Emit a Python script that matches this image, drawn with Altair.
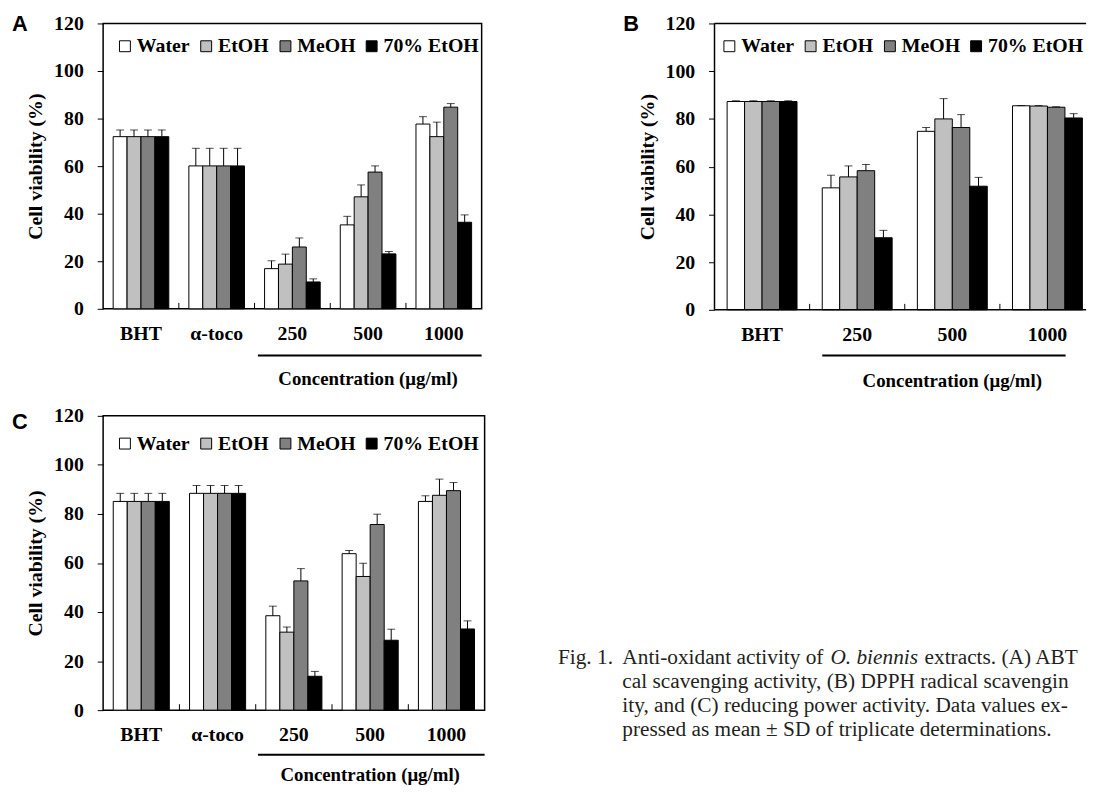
import altair as alt
import pandas as pd

SERIES = ["Water", "EtOH", "MeOH", "70% EtOH"]
FILLS = ["#ffffff", "#c0c0c0", "#808080", "#000000"]

GROUPS_AC = ["BHT", "α-toco", "250", "500", "1000"]
GROUPS_B = ["BHT", "250", "500", "1000"]

# Panel A (means and SD)
a_water = [72.4, 60.1, 16.9, 35.3, 77.7]
a_etoh = [72.4, 60.1, 18.8, 47.1, 72.4]
a_meoh = [72.4, 60.1, 26.0, 57.5, 84.8]
a_e70 = [72.4, 60.1, 11.3, 23.1, 36.4]
a_water_sd = [2.8, 7.4, 3.3, 3.6, 3.1]
a_etoh_sd = [2.8, 7.4, 4.2, 5.0, 6.1]
a_meoh_sd = [2.8, 7.4, 3.8, 2.6, 1.5]
a_e70_sd = [2.8, 7.4, 1.3, 1.0, 3.1]

# Panel B
b_water = [87.3, 51.1, 74.8, 85.5]
b_etoh = [87.3, 55.7, 80.0, 85.4]
b_meoh = [87.3, 58.3, 76.4, 84.9]
b_e70 = [87.3, 30.2, 51.8, 80.4]
b_water_sd = [0.3, 5.3, 1.6, 0.1]
b_etoh_sd = [0.3, 4.6, 8.5, 0.2]
b_meoh_sd = [0.3, 2.6, 5.4, 0.2]
b_e70_sd = [0.3, 3.1, 3.7, 1.8]

# Panel C
c_water = [85.1, 88.4, 38.5, 63.8, 85.1]
c_etoh = [85.1, 88.4, 31.8, 54.5, 87.6]
c_meoh = [85.1, 88.4, 52.7, 75.7, 89.5]
c_e70 = [85.1, 88.4, 13.8, 28.5, 33.1]
c_water_sd = [3.3, 3.2, 3.9, 1.3, 2.3]
c_etoh_sd = [3.3, 3.2, 2.1, 5.4, 6.6]
c_meoh_sd = [3.3, 3.2, 5.0, 4.2, 3.3]
c_e70_sd = [3.3, 3.2, 2.0, 4.5, 3.3]

Y_TICKS = [0, 20, 40, 60, 80, 100, 120]
Y_TITLE = "Cell viability (%)"
X_TITLE = "Concentration (μg/ml)"

CAPTION = [
    "Fig. 1.",
    "Anti-oxidant activity of",
    "O. biennis",
    "extracts. (A) ABTS radi-",
    "cal scavenging activity, (B) DPPH radical scavenging activ-",
    "ity, and (C) reducing power activity. Data values ex-",
    "pressed as mean ± SD of triplicate determinations.",
]

SERIF = "Liberation Serif"
PI = 0.265
RIGHT_LIMIT = 368  # visible width to the right of the caption cell origin


def panel(letter, groups, means, sds, width, height, legend_x, legend_y, letter_y,
          line_start_frac, line_end_frac, line_dy, text_dy,
          range_width=None, open_right=False):
    rows = []
    for s, m, sd in zip(SERIES, means, sds):
        for g, v, e in zip(groups, m, sd):
            rows.append({"group": g, "series": s, "mean": v, "upper": v + e})
    df = pd.DataFrame(rows)

    rw = range_width or width
    n = len(groups)
    step = rw / n
    bw = step * (1 - PI)

    xscale = alt.Scale(domain=groups, paddingInner=PI, paddingOuter=PI / 2,
                       range=[0, rw])
    oscale = alt.Scale(domain=SERIES, paddingInner=0, paddingOuter=0, range=[0, bw])
    yscale = alt.Scale(domain=[0, 120], nice=False)
    x_axis = alt.Axis(title=None, labelAngle=0, ticks=False, domain=False,
                      labelPadding=15, labelFont=SERIF, labelFontWeight="bold",
                      labelFontSize=20, labelColor="black")
    y_axis = alt.Axis(title=Y_TITLE, values=Y_TICKS, tickSize=6, tickColor="black",
                      tickWidth=1, domain=False, grid=False, labelFont=SERIF,
                      labelFontWeight="bold", labelFontSize=20, labelColor="black",
                      labelPadding=14, titleFont=SERIF, titleFontWeight="bold",
                      titleFontSize=20, titleColor="black", titleX=-68,
                      titleY=height / 2, titleBaseline="middle", titleAlign="center",
                      titleAngle=270)
    x = alt.X("group:N", scale=xscale, axis=x_axis)
    xo = alt.XOffset("series:N", scale=oscale)

    base = alt.Chart(df)
    bars = base.mark_bar(stroke="black", strokeWidth=1).encode(
        x=x, xOffset=xo,
        y=alt.Y("mean:Q", scale=yscale, axis=y_axis),
        color=alt.Color("series:N", scale=alt.Scale(domain=SERIES, range=FILLS),
                        legend=alt.Legend(orient="none", legendX=legend_x,
                                          legendY=legend_y,
                                          direction="horizontal", title=None,
                                          symbolType="square", symbolSize=121,
                                          symbolStrokeColor="black", symbolStrokeWidth=1,
                                          labelFont=SERIF, labelFontWeight="bold",
                                          labelFontSize=20, labelColor="black",
                                          columnPadding=6, labelOffset=2, padding=0,
                                          symbolOpacity=1)),
    )
    err = base.mark_rule(color="black", strokeWidth=1).encode(
        x=x, xOffset=xo,
        y=alt.Y("mean:Q", scale=yscale, axis=y_axis), y2="upper:Q")
    cap = base.mark_tick(color="black", thickness=1, size=8).encode(
        x=x, xOffset=xo, y=alt.Y("upper:Q", scale=yscale, axis=y_axis))

    layers = [bars, err, cap]

    # small upward ticks at the boundaries between groups
    for k in range(1, n):
        layers.append(
            alt.Chart(pd.DataFrame({"g": [groups[k]]})).mark_rule(
                color="black", strokeWidth=1).encode(
                x=alt.value(step * k), y=alt.value(height), y2=alt.value(height - 6)))

    # frame drawn by hand for the panel that runs off the page edge
    if open_right:
        fr = pd.DataFrame({"g": ["frame"]})
        layers.append(alt.Chart(fr).mark_rule(color="black", strokeWidth=1.5).encode(
            x=alt.value(0), x2=alt.value(width), y=alt.value(0)))
        layers.append(alt.Chart(fr).mark_rule(color="black", strokeWidth=1.5).encode(
            x=alt.value(0), x2=alt.value(width), y=alt.value(height)))
        layers.append(alt.Chart(fr).mark_rule(color="black", strokeWidth=1.5).encode(
            x=alt.value(0), y=alt.value(0), y2=alt.value(height)))

    # concentration bracket line (from the "250" group to the last group) and label
    g0 = groups.index("250")
    start_px = step * g0 + step * PI / 2 + bw * line_start_frac
    end_px = min(step * (n - 1) + step * PI / 2 + bw * line_end_frac, width)
    line = alt.Chart(pd.DataFrame({"g": ["250"]})).mark_rule(
        color="black", strokeWidth=2).encode(
        x=alt.value(start_px), x2=alt.value(end_px), y=alt.value(height + line_dy))
    tdf2 = pd.DataFrame({"group": ["500"], "t": [X_TITLE]})
    label = alt.Chart(tdf2).mark_text(font=SERIF, fontWeight="bold", fontSize=19,
                                      color="black", baseline="middle").encode(
        x=alt.X("group:N", scale=xscale, axis=x_axis),
        y=alt.value(height + text_dy), text="t:N")

    let = alt.Chart(pd.DataFrame({"t": [letter]})).mark_text(
        font="Liberation Sans", fontWeight="bold", fontSize=22, color="black",
        align="left", baseline="top").encode(
        x=alt.value(-92), y=alt.value(letter_y), text="t:N")

    layers += [line, label, let]
    ch = alt.layer(*layers).properties(width=width, height=height)
    if open_right:
        ch = ch.properties(view=alt.ViewBackground(stroke="transparent"))
    return ch


A = panel("A", GROUPS_AC, [a_water, a_etoh, a_meoh, a_e70],
          [a_water_sd, a_etoh_sd, a_meoh_sd, a_e70_sd], 382, 288, 12, 13, -9,
          -0.12, 1.2, 47, 71)
B = panel("B", GROUPS_B, [b_water, b_etoh, b_meoh, b_e70],
          [b_water_sd, b_etoh_sd, b_meoh_sd, b_e70_sd], 375, 289, 5, 13, -9,
          0.0, 0.76, 46, 72, range_width=384, open_right=True)
C = panel("C", GROUPS_AC, [c_water, c_etoh, c_meoh, c_e70],
          [c_water_sd, c_etoh_sd, c_meoh_sd, c_e70_sd], 385, 297, 12, 18, -4,
          -0.14, 1.2, 45, 66)


def cap_text(t, xpx, ypx, italic=False):
    kw = dict(font=SERIF, fontSize=21.5, color="#231f20", align="left",
              baseline="alphabetic", limit=RIGHT_LIMIT - xpx, ellipsis="\u200b")
    if italic:
        kw["fontStyle"] = "italic"
    return alt.Chart(pd.DataFrame({"t": [t]})).mark_text(**kw).encode(
        x=alt.value(xpx), y=alt.value(ypx), text="t:N")


caption = alt.layer(
    cap_text(CAPTION[0], -158, 250),
    cap_text(CAPTION[1], -93, 250),
    cap_text(CAPTION[2], 117, 250, italic=True),
    cap_text(CAPTION[3], 212, 250),
    cap_text(CAPTION[4], -93, 274.5),
    cap_text(CAPTION[5], -93, 299),
    cap_text(CAPTION[6], -93, 323.5),
).properties(width=300, height=297, view=alt.ViewBackground(stroke="transparent"))

chart = alt.concat(
    A, B, C, caption, columns=2,
    spacing=alt.RowColnumber(row=107, column=232),
    bounds="flush",
).resolve_scale(color="independent", xOffset="independent").resolve_legend(
    color="independent").properties(
    padding={"left": 3, "top": 1, "right": 0, "bottom": 0},
    background="white",
).configure_view(stroke="black", strokeWidth=1.5).configure_axis(grid=False)

chart.save("out.html", embed_options={"renderer": "svg", "actions": False})
